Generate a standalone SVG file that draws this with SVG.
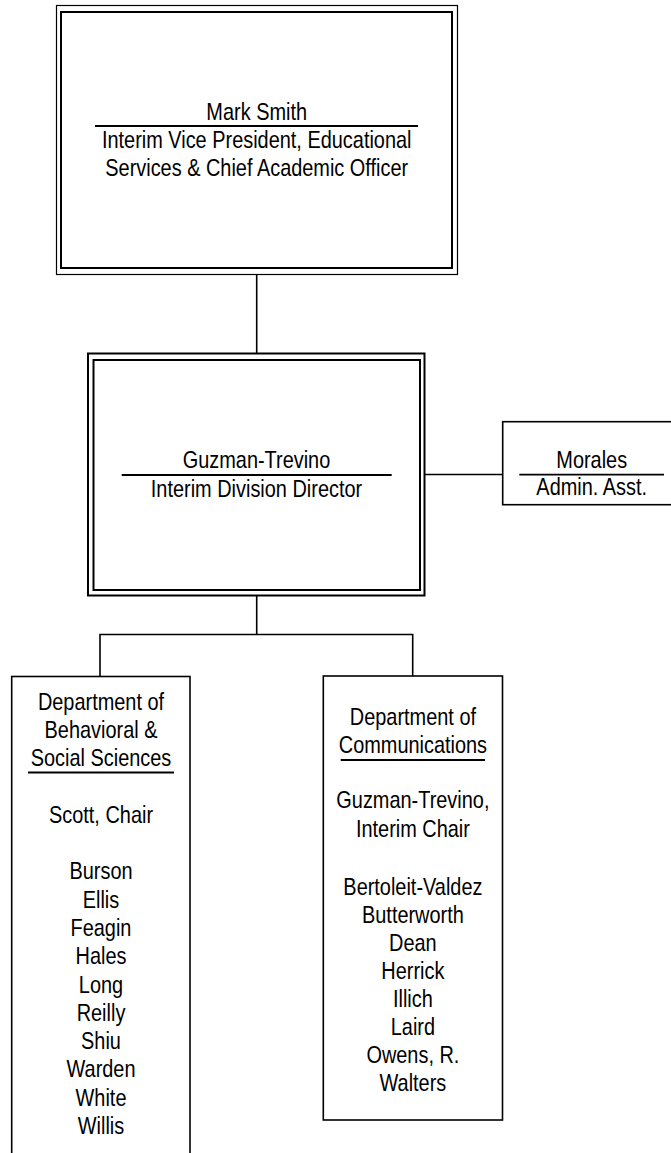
<svg xmlns="http://www.w3.org/2000/svg" width="671" height="1153" viewBox="0 0 671 1153">
<style>
.t{font-family:"Liberation Sans",Arial,sans-serif;font-size:24px;text-anchor:middle;fill:#000}
.thin{fill:none;stroke:#000;stroke-width:1.2}
.thick{fill:none;stroke:#000;stroke-width:2}
.box{fill:#fff;stroke:#000;stroke-width:1.6}
.ul{stroke:#000;stroke-width:1.8}
.c{fill:none;stroke:#000;stroke-width:1.6}
</style>
<rect width="671" height="1153" fill="#fff"/>
<g id="connectors">
<path class="c" d="M256.7 274.5V353.5"/>
<path class="c" d="M424.5 474.5H502.7"/>
<path class="c" d="M256.7 595.5V634.5M100 676.5V634.5H412.7V676.5"/>
</g>
<g id="vp">
<rect class="thin" x="56.5" y="5.5" width="401" height="269"/>
<rect class="thick" x="61" y="12" width="391" height="256"/>
<text class="t" transform="translate(256.7,120) scale(0.83,1)">Mark Smith</text>
<line class="ul" x1="95" y1="126" x2="418" y2="126"/>
<text class="t" transform="translate(256.7,148) scale(0.83,1)">Interim Vice President, Educational</text>
<text class="t" transform="translate(256.7,175.5) scale(0.83,1)">Services &amp; Chief Academic Officer</text>
</g>
<g id="director">
<rect class="thick" x="88" y="353.5" width="336.5" height="242"/>
<rect class="thick" x="93.5" y="360" width="326.5" height="230"/>
<text class="t" transform="translate(256.5,468.3) scale(0.83,1)">Guzman-Trevino</text>
<line class="ul" x1="121.7" y1="475" x2="391.7" y2="475"/>
<text class="t" transform="translate(256.5,496.5) scale(0.83,1)">Interim Division Director</text>
</g>
<g id="morales">
<rect class="box" x="502.7" y="421.7" width="178" height="83"/>
<text class="t" transform="translate(591.7,468.3) scale(0.83,1)">Morales</text>
<line class="ul" x1="519.3" y1="474.7" x2="664" y2="474.7"/>
<text class="t" transform="translate(591.7,495) scale(0.83,1)">Admin. Asst.</text>
</g>
<g id="dept-bss">
<rect class="box" x="11.7" y="676.5" width="178.3" height="500"/>
<text class="t" transform="translate(101,709.5) scale(0.83,1)">Department of</text>
<text class="t" transform="translate(101,737.8) scale(0.83,1)">Behavioral &amp;</text>
<text class="t" transform="translate(101,766.1) scale(0.83,1)">Social Sciences</text>
<line class="ul" x1="28" y1="772.5" x2="174" y2="772.5"/>
<text class="t" transform="translate(101,822.7) scale(0.83,1)">Scott, Chair</text>
<text class="t" transform="translate(101,879.3) scale(0.83,1)">Burson</text>
<text class="t" transform="translate(101,907.6) scale(0.83,1)">Ellis</text>
<text class="t" transform="translate(101,935.9) scale(0.83,1)">Feagin</text>
<text class="t" transform="translate(101,964.2) scale(0.83,1)">Hales</text>
<text class="t" transform="translate(101,992.5) scale(0.83,1)">Long</text>
<text class="t" transform="translate(101,1020.8) scale(0.83,1)">Reilly</text>
<text class="t" transform="translate(101,1049.1) scale(0.83,1)">Shiu</text>
<text class="t" transform="translate(101,1077.4) scale(0.83,1)">Warden</text>
<text class="t" transform="translate(101,1105.7) scale(0.83,1)">White</text>
<text class="t" transform="translate(101,1134) scale(0.83,1)">Willis</text>
</g>
<g id="dept-comm">
<rect class="box" x="323.3" y="676" width="179.2" height="444"/>
<text class="t" transform="translate(412.9,725) scale(0.83,1)">Department of</text>
<text class="t" transform="translate(412.9,752.5) scale(0.83,1)">Communications</text>
<line class="ul" x1="340.7" y1="760" x2="485" y2="760"/>
<text class="t" transform="translate(412.9,808.3) scale(0.83,1)">Guzman-Trevino,</text>
<text class="t" transform="translate(412.9,837) scale(0.83,1)">Interim Chair</text>
<text class="t" transform="translate(412.9,894.5) scale(0.83,1)">Bertoleit-Valdez</text>
<text class="t" transform="translate(412.9,922.5) scale(0.83,1)">Butterworth</text>
<text class="t" transform="translate(412.9,950.5) scale(0.83,1)">Dean</text>
<text class="t" transform="translate(412.9,978.5) scale(0.83,1)">Herrick</text>
<text class="t" transform="translate(412.9,1006.5) scale(0.83,1)">Illich</text>
<text class="t" transform="translate(412.9,1034.5) scale(0.83,1)">Laird</text>
<text class="t" transform="translate(412.9,1062.5) scale(0.83,1)">Owens, R.</text>
<text class="t" transform="translate(412.9,1090.5) scale(0.83,1)">Walters</text>
</g>
</svg>
